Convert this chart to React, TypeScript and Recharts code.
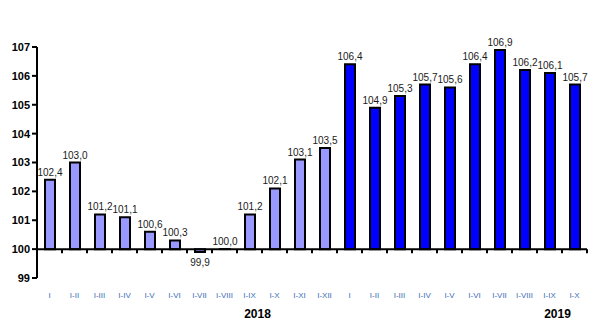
import React from "react";
import { BarChart, Bar, XAxis, YAxis, Cell, LabelList, ReferenceLine } from "recharts";

const categories2018 = ["I", "I-II", "I-III", "I-IV", "I-V", "I-VI", "I-VII", "I-VIII", "I-IX", "I-X", "I-XI", "I-XII"];
const values2018 = [102.4, 103.0, 101.2, 101.1, 100.6, 100.3, 99.9, 100.0, 101.2, 102.1, 103.1, 103.5];
const categories2019 = ["I", "I-II", "I-III", "I-IV", "I-V", "I-VI", "I-VII", "I-VIII", "I-IX", "I-X"];
const values2019 = [106.4, 104.9, 105.3, 105.7, 105.6, 106.4, 106.9, 106.2, 106.1, 105.7];
const yTicks = [99, 100, 101, 102, 103, 104, 105, 106, 107];
const years = ["2018", "2019"];
const BASE = 100;

const data = [
  ...categories2018.map((name, i) => ({ name, value: values2018[i], range: [BASE, values2018[i]], year: 0 })),
  ...categories2019.map((name, i) => ({ name, value: values2019[i], range: [BASE, values2019[i]], year: 1 })),
];

const colors = ["#9999ff", "#0000ff"];
const FONT = "Arial, 'Liberation Sans', sans-serif";

const W = 593;
const H = 329;
const TOP = 47;
const PLOT_H = 231;
const BAND = 25;
const baseOffset = (PLOT_H * (BASE - 99)) / (107 - 99);

const fmt = (v: number) => v.toFixed(1).replace(".", ",");

const CategoryTick = (props: any) => {
  const { x, y, index, payload } = props;
  const baseY = y - baseOffset;
  const yearIdx = index === 8 ? 0 : index === 20 ? 1 : -1;
  return (
    <g>
      <line x1={x - BAND / 2} x2={x - BAND / 2} y1={baseY} y2={baseY + 4} stroke="#000" strokeWidth={2} />
      {index === data.length - 1 && (
        <line x1={x + BAND / 2} x2={x + BAND / 2} y1={baseY} y2={baseY + 4} stroke="#000" strokeWidth={2} />
      )}
      <text x={x} y={y + 20} textAnchor="middle" fontSize={8} fill="#3d6fb6" fontFamily={FONT}>
        {payload.value}
      </text>
      {yearIdx >= 0 && (
        <text x={x + 8} y={y + 40} textAnchor="middle" fontSize={12} fontWeight="bold" fill="#000" fontFamily={FONT}>
          {years[yearIdx]}
        </text>
      )}
    </g>
  );
};

const ValueLabel = (props: any) => {
  const { x, y, width, height, value } = props;
  const top = Math.min(y, y + height);
  const bottom = Math.max(y, y + height);
  const below = value < BASE;
  return (
    <text
      x={x + width / 2}
      y={below ? bottom + 14 : top - 4}
      textAnchor="middle"
      fontSize={10}
      fill="#1a1a1a"
      fontFamily={FONT}
    >
      {fmt(value)}
    </text>
  );
};

export default function App() {
  return (
    <div style={{ position: "absolute", left: 0, top: 0, width: W, height: H, background: "#fff" }}>
      <BarChart
        width={W}
        height={H}
        data={data}
        margin={{ top: TOP, right: 6, bottom: H - TOP - PLOT_H - 40, left: 0 }}
        barCategoryGap={0}
      >
        <XAxis
          dataKey="name"
          axisLine={false}
          tickLine={false}
          tickSize={0}
          tickMargin={0}
          height={40}
          interval={0}
          tick={<CategoryTick />}
        />
        <YAxis
          domain={[99, 107]}
          ticks={yTicks}
          width={37}
          interval={0}
          axisLine={{ stroke: "#000", strokeWidth: 2 }}
          tickLine={{ stroke: "#000", strokeWidth: 2 }}
          tickSize={5}
          tickMargin={2}
          tick={{ fontSize: 11, fontWeight: "bold", fill: "#000", fontFamily: FONT }}
        />
        <Bar
          dataKey="range"
          barSize={10}
          stroke="#000"
          strokeWidth={2}
          minPointSize={0.01}
          isAnimationActive={false}
        >
          {data.map((d, i) => (
            <Cell key={i} fill={colors[d.year]} />
          ))}
          <LabelList dataKey="value" content={<ValueLabel />} />
        </Bar>
        <ReferenceLine y={BASE} stroke="#000" strokeWidth={2} />
      </BarChart>
    </div>
  );
}
